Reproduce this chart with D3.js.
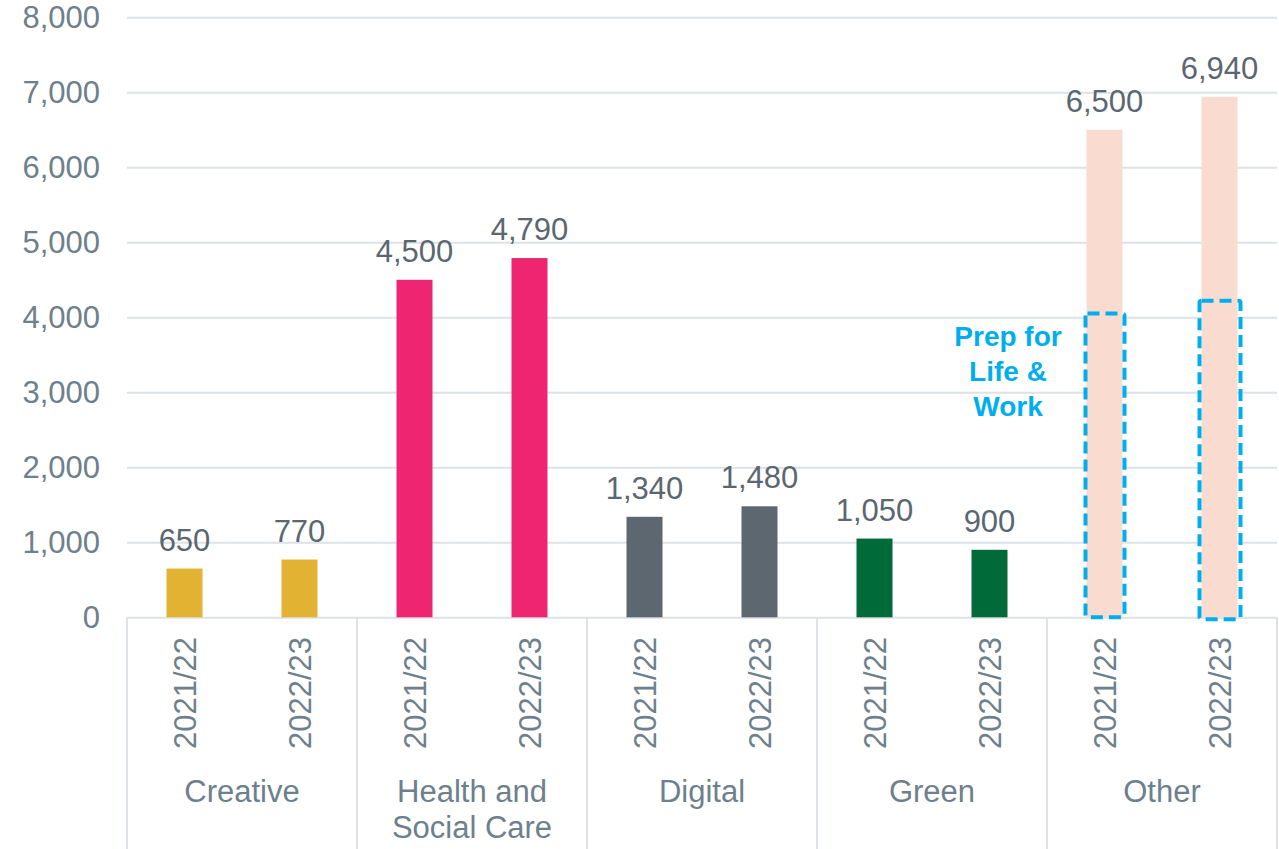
<!DOCTYPE html>
<html>
<head>
<meta charset="utf-8">
<script src="https://cdn.jsdelivr.net/npm/d3@7"></script>
<style>
  body { margin: 0; background: #fff; }
  svg { display: block; font-family: "Liberation Sans", Arial, sans-serif; }
</style>
</head>
<body>
<div id="chart"></div>
<script>
// data
var categories = ["Creative", "Health and\nSocial Care", "Digital", "Green", "Other"];
var years = ["2021/22", "2022/23"];
var values2122 = [650, 4500, 1340, 1050, 6500];
var values2223 = [770, 4790, 1480, 900, 6940];
var barColours = ["#E2B233", "#EE2570", "#5C6770", "#006B38", "#F9DCCF"];
var prepCategory = "Other";
var prepValues = [4050, 4220];   // Prep for Life & Work share of "Other"
var prepLabel = ["Prep for", "Life &", "Work"];
var yTicks = [0, 1000, 2000, 3000, 4000, 5000, 6000, 7000, 8000];

window.onload = () => {
  var W = 1279, H = 849;
  var margin = { top: 17.3, left: 127, right: 2 },
    plotBottom = 617.3,
    width = W - margin.left - margin.right;

  var svg = d3.select("#chart").append("svg")
    .attr("width", W)
    .attr("height", H);

  var x = d3.scaleBand()
    .domain(categories)
    .range([margin.left, margin.left + width])
    .padding(0);

  var xYear = d3.scalePoint()
    .domain(years)
    .range([0, x.bandwidth()])
    .padding(0.5);

  var y = d3.scaleLinear()
    .domain([0, 8000])
    .range([plotBottom, margin.top]);

  var barW = 36;

  // grid + y labels
  var yAxis = d3.axisLeft(y)
    .tickValues(yTicks)
    .tickSize(-width)
    .tickPadding(27)
    .tickFormat(d3.format(","));

  var gy = svg.append("g")
    .attr("transform", "translate(" + margin.left + ",0)")
    .call(yAxis);
  gy.select(".domain").remove();
  gy.selectAll(".tick line")
    .attr("stroke", "#DDE2E6")
    .attr("stroke-width", 2);
  gy.selectAll(".tick text")
    .attr("fill", "#6E808C")
    .style("font-size", "31px")
    .style("font-family", "'Liberation Sans', Arial, sans-serif");

  // flatten the two series into bar records
  var bars = [];
  categories.forEach(function(c, i) {
    bars.push({ cat: c, year: years[0], value: values2122[i], colour: barColours[i] });
    bars.push({ cat: c, year: years[1], value: values2223[i], colour: barColours[i] });
  });

  var cx = function(d) { return x(d.cat) + xYear(d.year); };

  svg.append("g").selectAll("rect")
    .data(bars)
    .join("rect")
      .attr("x", d => cx(d) - barW / 2)
      .attr("width", barW)
      .attr("y", d => y(d.value))
      .attr("height", d => y(0) - y(d.value))
      .attr("fill", d => d.colour);

  // value labels
  svg.append("g").selectAll("text")
    .data(bars)
    .join("text")
      .attr("x", cx)
      .attr("y", d => y(d.value) - 18)
      .attr("text-anchor", "middle")
      .attr("fill", "#5B6770")
      .style("font-size", "31px")
      .text(d => d3.format(",")(d.value));

  // group separators below the axis
  var seps = categories.map(c => x(c)).concat([margin.left + width]);
  svg.append("g").selectAll("line")
    .data(seps)
    .join("line")
      .attr("x1", d => d).attr("x2", d => d)
      .attr("y1", plotBottom).attr("y2", H)
      .attr("stroke", "#DDE2E6")
      .attr("stroke-width", 2);

  // rotated year labels
  svg.append("g").selectAll("text")
    .data(bars)
    .join("text")
      .attr("transform", d => "translate(" + (cx(d) + 11) + ",637) rotate(-90)")
      .attr("text-anchor", "end")
      .attr("fill", "#6E808C")
      .style("font-size", "31px")
      .text(d => d.year);

  // category labels
  var catText = svg.append("g").selectAll("text")
    .data(categories)
    .join("text")
      .attr("x", d => x(d) + x.bandwidth() / 2)
      .attr("y", 802)
      .attr("text-anchor", "middle")
      .attr("fill", "#6E808C")
      .style("font-size", "31px");
  catText.selectAll("tspan")
    .data(d => d.split("\n"))
    .join("tspan")
      .attr("x", function() { return d3.select(this.parentNode).attr("x"); })
      .attr("dy", (d, i) => i === 0 ? 0 : 36)
      .text(d => d);

  // Prep for Life & Work dashed boxes
  svg.append("g").selectAll("rect")
    .data(prepValues)
    .join("rect")
      .attr("x", (d, i) => x(prepCategory) + xYear(years[i]) - barW / 2 - 1 + i * -1)
      .attr("width", (d, i) => barW + 3 + i * 2)
      .attr("y", d => y(d))
      .attr("height", (d, i) => y(0) - y(d) + i * 2)
      .attr("rx", 2)
      .attr("fill", "none")
      .attr("stroke", "#00AEEF")
      .attr("stroke-width", 4)
      .attr("stroke-dasharray", "12,6");

  svg.append("text")
    .attr("x", 1008)
    .attr("y", 346)
    .attr("text-anchor", "middle")
    .attr("fill", "#00AEEF")
    .style("font-size", "28px")
    .style("font-weight", "bold")
    .selectAll("tspan")
    .data(prepLabel)
    .join("tspan")
      .attr("x", 1008)
      .attr("dy", (d, i) => i === 0 ? 0 : 35)
      .text(d => d);
};
</script>
</body>
</html>
